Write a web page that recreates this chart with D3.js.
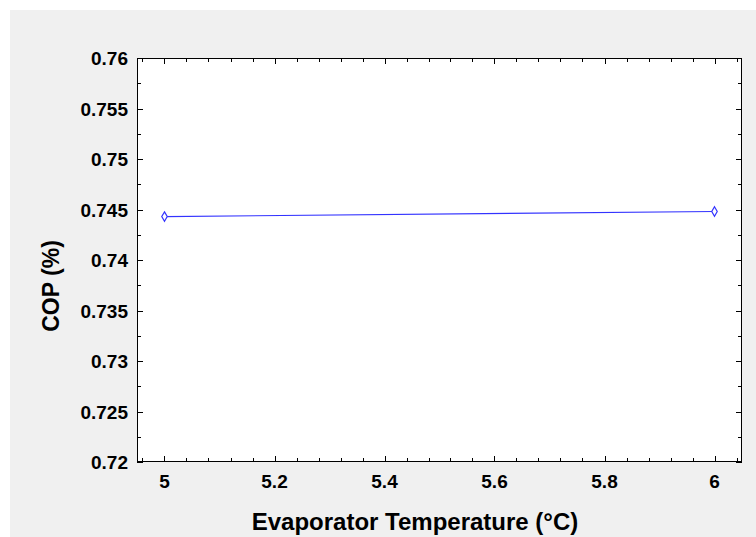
<!DOCTYPE html>
<html><head><meta charset="utf-8">
<script src="https://cdn.jsdelivr.net/npm/d3@7"></script>
<style>body{margin:0;background:#fff}svg{display:block}</style>
</head><body>
<script>
const xValues = [5, 6];
const copValues = [0.7443, 0.7448];
const xTicks = [5, 5.2, 5.4, 5.6, 5.8, 6];
const yTicks = [0.72, 0.725, 0.73, 0.735, 0.74, 0.745, 0.75, 0.755, 0.76];
const xTitle = "Evaporator Temperature (°C)";
const yTitle = "COP (%)";

const W = 756, H = 537;
const L = 137, R = 742, T = 58, B = 462;
const svg = d3.select("body").append("svg").attr("width", W).attr("height", H);
svg.append("rect").attr("x", 10).attr("y", 10).attr("width", W - 10).attr("height", H - 10).attr("fill", "#f0f0f0");
svg.append("rect").attr("x", L).attr("y", T).attr("width", R - L).attr("height", B - T).attr("fill", "#fff");

const x = d3.scaleLinear().domain([4.95, 6.05]).range([L, R]);
const y = d3.scaleLinear().domain([0.72, 0.76]).range([B, T]);
const font = "'Liberation Sans', Arial, sans-serif";

// minor ticks
const xMinor = d3.range(0, 28).map(i => +(4.96 + i * 0.04).toFixed(2));
const yMinor = d3.range(0, 17).map(i => +(0.72 + i * 0.0025).toFixed(4));
const g = svg.append("g").attr("stroke", "#000").attr("stroke-width", 1);
xMinor.forEach(v => {
  const px = Math.round(x(v)) + 0.5;
  const major = xTicks.some(t => Math.abs(t - v) < 1e-6);
  const len = major ? 6 : 4;
  g.append("line").attr("x1", px).attr("x2", px).attr("y1", B).attr("y2", B - len);
  g.append("line").attr("x1", px).attr("x2", px).attr("y1", T).attr("y2", T + len);
});
yMinor.forEach(v => {
  const py = Math.round(y(v)) + 0.5;
  const major = yTicks.some(t => Math.abs(t - v) < 1e-6);
  const len = major ? 6 : 4;
  g.append("line").attr("x1", L).attr("x2", L + len).attr("y1", py).attr("y2", py);
  g.append("line").attr("x1", R).attr("x2", R - len).attr("y1", py).attr("y2", py);
});
svg.append("rect").attr("x", L + 0.5).attr("y", T + 0.5).attr("width", R - L - 1).attr("height", B - T - 1)
  .attr("fill", "none").attr("stroke", "#000").attr("stroke-width", 1);

// tick labels
svg.append("g").selectAll("text").data(xTicks).join("text")
  .attr("x", d => x(d)).attr("y", 488).attr("text-anchor", "middle")
  .attr("font-family", font).attr("font-weight", "bold").attr("font-size", 19)
  .text(d => d3.format("")(d));
svg.append("g").selectAll("text").data(yTicks).join("text")
  .attr("x", 128).attr("y", d => y(d) + 7).attr("text-anchor", "end")
  .attr("font-family", font).attr("font-weight", "bold").attr("font-size", 19)
  .text(d => d3.format("")(d));

// titles
svg.append("text").attr("x", 415).attr("y", 530).attr("text-anchor", "middle")
  .attr("font-family", font).attr("font-weight", "bold").attr("font-size", 24).text(xTitle);
svg.append("text").attr("transform", "translate(59,286) rotate(-90)").attr("text-anchor", "middle")
  .attr("font-family", font).attr("font-weight", "bold").attr("font-size", 23).text(yTitle);

// line
const data = xValues.map((v, i) => ({x: v, y: copValues[i]}));
svg.append("path").datum(data)
  .attr("d", d3.line().x(d => x(d.x)).y(d => y(d.y)))
  .attr("fill", "none").attr("stroke", "#3333ff").attr("stroke-width", 1.2);
svg.append("g").selectAll("path").data(data).join("path")
  .attr("transform", d => `translate(${x(d.x)},${y(d.y)})`)
  .attr("d", d3.symbol(d3.symbolDiamond, 26)())
  .attr("fill", "#fff").attr("stroke", "#3333ff").attr("stroke-width", 1.2);
</script>
</body></html>
